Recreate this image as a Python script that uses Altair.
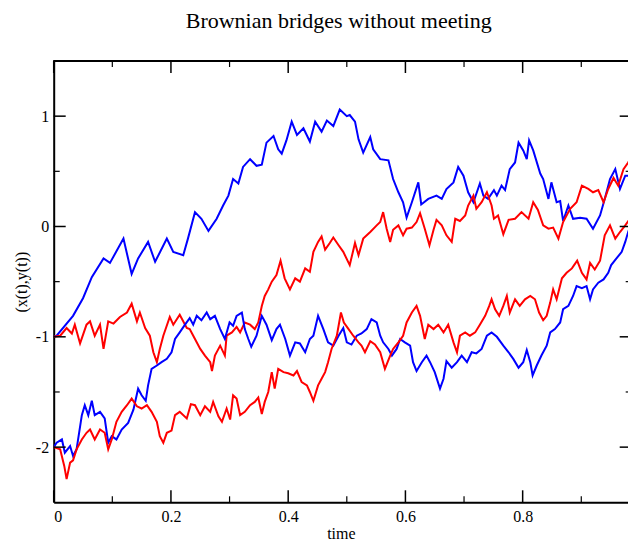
import altair as alt
import pandas as pd

# ---- path data (time, value) ----
T_BLUE_UP = [0.0, 0.005, 0.033, 0.050, 0.065, 0.085, 0.096, 0.119, 0.133, 0.144, 0.161, 0.173, 0.193, 0.204, 0.221, 0.229,
             0.241, 0.252, 0.264, 0.278, 0.289, 0.298, 0.306, 0.315, 0.323, 0.335, 0.346, 0.355, 0.363, 0.375, 0.383, 0.389,
             0.397, 0.406, 0.415, 0.426, 0.437, 0.446, 0.457, 0.466, 0.477, 0.488, 0.500, 0.505, 0.514, 0.520, 0.528, 0.540,
             0.545, 0.557, 0.571, 0.579, 0.588, 0.596, 0.602, 0.611, 0.622, 0.627, 0.639, 0.653, 0.662, 0.670, 0.682, 0.690,
             0.699, 0.707, 0.716, 0.727, 0.733, 0.741, 0.751, 0.756, 0.764, 0.770, 0.778, 0.787, 0.793, 0.801, 0.807, 0.811,
             0.818, 0.830, 0.835, 0.844, 0.849, 0.858, 0.864, 0.869, 0.878, 0.886, 0.898, 0.909, 0.920, 0.932, 0.940, 0.949,
             0.958, 0.966, 0.975, 0.983, 0.993]
Y_BLUE_UP = [-1.00, -0.99, -0.81, -0.65, -0.46, -0.29, -0.33, -0.11, -0.43, -0.29, -0.14, -0.32, -0.11, -0.23, -0.26, -0.11,
             0.13, 0.07, -0.04, 0.07, 0.19, 0.28, 0.43, 0.39, 0.54, 0.61, 0.55, 0.56, 0.76, 0.82, 0.70, 0.66,
             0.78, 0.95, 0.83, 0.89, 0.77, 0.95, 0.86, 0.96, 0.91, 1.06, 1.00, 1.01, 0.95, 0.79, 0.67, 0.81,
             0.70, 0.61, 0.60, 0.43, 0.31, 0.22, 0.08, 0.22, 0.40, 0.20, 0.25, 0.28, 0.25, 0.34, 0.40, 0.54,
             0.46, 0.31, 0.22, 0.39, 0.28, 0.25, 0.33, 0.28, 0.37, 0.33, 0.52, 0.58, 0.76, 0.69, 0.61, 0.78,
             0.69, 0.48, 0.43, 0.25, 0.40, 0.22, 0.23, 0.05, 0.19, 0.07, 0.08, 0.07, -0.02, 0.10, 0.25, 0.43,
             0.52, 0.34, 0.46, 0.46, 0.51]

T_RED_UP = [0.0, 0.011, 0.022, 0.031, 0.036, 0.045, 0.056, 0.062, 0.070, 0.079, 0.085, 0.093, 0.102, 0.113, 0.125, 0.133,
            0.142, 0.147, 0.156, 0.164, 0.170, 0.176, 0.181, 0.187, 0.198, 0.204, 0.215, 0.227, 0.232, 0.241, 0.250, 0.258,
            0.267, 0.270, 0.275, 0.284, 0.292, 0.295, 0.304, 0.312, 0.318, 0.326, 0.335, 0.343, 0.349, 0.355, 0.360, 0.366,
            0.372, 0.380, 0.387, 0.394, 0.403, 0.412, 0.420, 0.429, 0.437, 0.443, 0.451, 0.457, 0.463, 0.471, 0.477, 0.486,
            0.494, 0.505, 0.514, 0.520, 0.528, 0.540, 0.551, 0.557, 0.562, 0.568, 0.574, 0.579, 0.588, 0.596, 0.602, 0.611,
            0.619, 0.625, 0.633, 0.641, 0.648, 0.653, 0.662, 0.670, 0.679, 0.685, 0.693, 0.702, 0.707, 0.716, 0.721, 0.730,
            0.739, 0.747, 0.751, 0.758, 0.767, 0.776, 0.787, 0.798, 0.810, 0.818, 0.826, 0.835, 0.844, 0.852, 0.861, 0.869,
            0.881, 0.892, 0.901, 0.912, 0.920, 0.929, 0.938, 0.946, 0.955, 0.963, 0.972, 0.980, 0.989, 0.993]
Y_RED_UP = [-1.00, -0.99, -0.92, -0.97, -0.89, -1.06, -0.89, -0.86, -0.99, -0.89, -1.11, -0.86, -0.88, -0.82, -0.78, -0.70,
            -0.86, -0.78, -0.92, -0.99, -1.14, -1.23, -1.11, -0.99, -0.82, -0.89, -0.80, -0.92, -0.93, -1.02, -1.11, -1.17,
            -1.23, -1.31, -1.17, -1.08, -1.17, -0.99, -0.96, -0.91, -0.96, -0.87, -0.89, -0.93, -0.87, -0.72, -0.63, -0.57,
            -0.50, -0.44, -0.31, -0.47, -0.57, -0.47, -0.50, -0.38, -0.41, -0.23, -0.14, -0.09, -0.21, -0.15, -0.10, -0.17,
            -0.23, -0.35, -0.15, -0.26, -0.11, -0.05, 0.01, 0.04, 0.13, -0.02, -0.14, -0.03, 0.01, -0.08, -0.02, -0.01,
            0.04, 0.12, -0.02, -0.17, -0.03, 0.06, 0.01, -0.08, -0.14, 0.07, 0.05, 0.10, 0.19, 0.28, 0.16, 0.22,
            0.31, 0.19, 0.07, 0.10, -0.07, 0.06, 0.07, 0.13, 0.07, 0.22, 0.15, 0.01, -0.02, -0.01, -0.11, 0.04,
            0.16, 0.22, 0.37, 0.34, 0.31, 0.33, 0.22, 0.34, 0.44, 0.37, 0.52, 0.58, 0.67, 0.70]

T_BLUE_LOW = [0.0, 0.005, 0.014, 0.019, 0.028, 0.033, 0.039, 0.048, 0.053, 0.059, 0.065, 0.070, 0.079, 0.087, 0.093, 0.099,
              0.107, 0.116, 0.127, 0.136, 0.144, 0.150, 0.157, 0.161, 0.167, 0.176, 0.184, 0.193, 0.201, 0.207, 0.215, 0.224,
              0.232, 0.238, 0.244, 0.252, 0.261, 0.267, 0.275, 0.284, 0.292, 0.300, 0.306, 0.312, 0.321, 0.326, 0.332, 0.337,
              0.346, 0.355, 0.363, 0.372, 0.380, 0.386, 0.395, 0.403, 0.412, 0.420, 0.429, 0.437, 0.443, 0.451, 0.460, 0.468,
              0.477, 0.486, 0.494, 0.500, 0.508, 0.517, 0.525, 0.534, 0.542, 0.551, 0.557, 0.562, 0.571, 0.577, 0.585, 0.591,
              0.599, 0.608, 0.613, 0.619, 0.628, 0.636, 0.642, 0.650, 0.659, 0.665, 0.670, 0.679, 0.688, 0.696, 0.705, 0.713,
              0.721, 0.730, 0.739, 0.747, 0.756, 0.767, 0.776, 0.784, 0.793, 0.801, 0.807, 0.813, 0.817, 0.824, 0.832, 0.841,
              0.847, 0.855, 0.864, 0.869, 0.878, 0.886, 0.892, 0.901, 0.909, 0.915, 0.920, 0.929, 0.938, 0.946, 0.951, 0.960,
              0.969, 0.975, 0.980, 0.986, 0.993]
Y_BLUE_LOW = [-2.00, -1.96, -1.93, -2.05, -1.99, -2.08, -2.02, -1.71, -1.62, -1.71, -1.58, -1.71, -1.68, -1.74, -1.96, -1.90,
              -1.93, -1.84, -1.78, -1.66, -1.47, -1.53, -1.58, -1.44, -1.29, -1.26, -1.23, -1.20, -1.14, -1.02, -0.96, -0.89,
              -0.83, -0.89, -0.81, -0.85, -0.78, -0.84, -0.81, -0.93, -1.02, -0.87, -0.90, -0.81, -0.78, -0.93, -1.02, -1.09,
              -0.99, -0.81, -0.89, -1.03, -0.93, -0.89, -1.02, -1.17, -1.05, -1.06, -1.14, -1.02, -0.99, -0.81, -0.93, -1.05,
              -1.08, -0.99, -0.92, -1.05, -1.07, -0.99, -0.97, -0.93, -0.84, -0.87, -0.99, -1.05, -1.11, -1.17, -1.11, -1.02,
              -1.05, -1.08, -1.23, -1.31, -1.23, -1.17, -1.23, -1.32, -1.47, -1.38, -1.22, -1.28, -1.23, -1.17, -1.23, -1.14,
              -1.15, -1.11, -0.99, -0.96, -1.00, -1.08, -1.14, -1.20, -1.28, -1.23, -1.12, -1.23, -1.35, -1.26, -1.17, -1.08,
              -0.96, -0.93, -0.87, -0.75, -0.72, -0.63, -0.54, -0.56, -0.54, -0.66, -0.57, -0.51, -0.48, -0.42, -0.35, -0.29,
              -0.23, -0.14, -0.05, 0.04, 0.10]

T_RED_LOW = [0.0, 0.011, 0.018, 0.022, 0.028, 0.033, 0.039, 0.048, 0.056, 0.062, 0.070, 0.079, 0.087, 0.093, 0.099, 0.107,
             0.116, 0.125, 0.133, 0.142, 0.150, 0.159, 0.167, 0.176, 0.181, 0.187, 0.193, 0.201, 0.207, 0.215, 0.227, 0.234,
             0.241, 0.250, 0.258, 0.267, 0.272, 0.281, 0.287, 0.295, 0.301, 0.306, 0.312, 0.318, 0.326, 0.335, 0.343, 0.349,
             0.355, 0.360, 0.366, 0.372, 0.377, 0.383, 0.392, 0.400, 0.409, 0.415, 0.423, 0.432, 0.437, 0.443, 0.451, 0.457,
             0.463, 0.468, 0.474, 0.483, 0.490, 0.495, 0.503, 0.511, 0.520, 0.525, 0.531, 0.540, 0.548, 0.557, 0.565, 0.574,
             0.579, 0.588, 0.596, 0.602, 0.611, 0.619, 0.625, 0.633, 0.639, 0.648, 0.656, 0.665, 0.673, 0.682, 0.688, 0.693,
             0.702, 0.710, 0.719, 0.727, 0.736, 0.743, 0.747, 0.753, 0.760, 0.767, 0.773, 0.778, 0.787, 0.795, 0.804, 0.813,
             0.821, 0.828, 0.835, 0.841, 0.847, 0.852, 0.858, 0.867, 0.875, 0.884, 0.893, 0.901, 0.909, 0.915, 0.923, 0.932,
             0.940, 0.949, 0.958, 0.966, 0.975, 0.983, 0.993]
Y_RED_LOW = [-2.00, -2.02, -2.17, -2.29, -2.14, -2.12, -2.02, -1.93, -1.87, -1.84, -1.93, -1.84, -1.87, -2.02, -1.93, -1.77,
             -1.68, -1.62, -1.56, -1.63, -1.65, -1.62, -1.68, -1.77, -1.90, -1.96, -1.87, -1.85, -1.71, -1.68, -1.74, -1.61,
             -1.62, -1.71, -1.63, -1.68, -1.59, -1.72, -1.77, -1.65, -1.75, -1.53, -1.56, -1.71, -1.68, -1.62, -1.59, -1.55,
             -1.70, -1.59, -1.50, -1.32, -1.47, -1.29, -1.32, -1.33, -1.35, -1.31, -1.41, -1.44, -1.50, -1.58, -1.44, -1.38,
             -1.32, -1.23, -1.11, -0.99, -0.78, -0.87, -0.93, -0.99, -1.05, -1.08, -1.14, -1.04, -1.07, -1.14, -1.29, -1.17,
             -1.11, -1.05, -0.99, -0.87, -0.78, -0.72, -0.81, -1.02, -0.89, -0.93, -0.89, -0.96, -0.89, -1.05, -1.14, -0.99,
             -0.96, -0.99, -0.96, -0.89, -0.81, -0.72, -0.66, -0.75, -0.81, -0.72, -0.63, -0.78, -0.66, -0.72, -0.66, -0.63,
             -0.66, -0.78, -0.85, -0.81, -0.69, -0.57, -0.66, -0.47, -0.42, -0.38, -0.31, -0.42, -0.48, -0.33, -0.39, -0.31,
             -0.08, 0.01, -0.11, -0.05, 0.01, 0.07, 0.16]

PATHS = ["x upper", "y upper", "x lower", "y lower"]
PATH_COLORS = ["#0000ff", "#ff0000", "#0000ff", "#ff0000"]

X_MAJOR = [0, 0.2, 0.4, 0.6, 0.8]
X_MINOR = [0.1, 0.3, 0.5, 0.7, 0.9]
Y_MAJOR = [-2, -1, 0, 1]
Y_MINOR = [-1.5, -0.5, 0.5]

TITLE = "Brownian bridges without meeting"
X_TITLE = "time"
Y_TITLE = "(x(t),y(t))"

# ---- build table ----
frames = []
for name, ts, vs in [(PATHS[0], T_BLUE_UP, Y_BLUE_UP), (PATHS[1], T_RED_UP, Y_RED_UP),
                     (PATHS[2], T_BLUE_LOW, Y_BLUE_LOW), (PATHS[3], T_RED_LOW, Y_RED_LOW)]:
    frames.append(pd.DataFrame({"t": ts, "v": vs, "path": name}))
df = pd.concat(frames, ignore_index=True)

PX_PER_UNIT = 586.2
W = 574.3
H = 441.3
FONT = "Liberation Serif"

xs = alt.Scale(domain=[0, W / PX_PER_UNIT], nice=False, zero=False)
ys = alt.Scale(domain=[-2.5, 1.5], nice=False, zero=False)

x_axis = alt.Axis(values=X_MAJOR, labelExpr="'' + datum.value", title=X_TITLE, ticks=False, grid=False,
                  domain=True, domainColor="black", domainWidth=2, domainOpacity=1,
                  labelFont=FONT, labelFontSize=16, labelColor="black",
                  labelPadding=6, titleFont=FONT, titleFontSize=16, titleFontWeight="normal", titleColor="black",
                  titleY=31, titleBaseline="middle")
y_axis = alt.Axis(values=Y_MAJOR, labelExpr="'' + datum.value", title=Y_TITLE, ticks=False, grid=False,
                  domain=True, domainColor="black", domainWidth=2, domainOpacity=1,
                  labelFont=FONT, labelFontSize=16, labelColor="black",
                  labelPadding=5, titleFont=FONT, titleFontSize=16, titleFontWeight="normal", titleColor="black",
                  titleX=-32, titleY=H / 2, titleBaseline="middle", titleAlign="center", titleAngle=270)

lines = alt.Chart(df).mark_line(strokeWidth=2, clip=True).encode(
    x=alt.X("t:Q", scale=xs, axis=x_axis),
    y=alt.Y("v:Q", scale=ys, axis=y_axis),
    color=alt.Color("path:N", scale=alt.Scale(domain=PATHS, range=PATH_COLORS), legend=None),
    detail="path:N",
)

xmaj = pd.DataFrame({"t": X_MAJOR})
xmin = pd.DataFrame({"t": X_MINOR})
ymaj = pd.DataFrame({"v": Y_MAJOR})
ymin = pd.DataFrame({"v": Y_MINOR})


def xticks(d, y0, y1, w):
    return alt.Chart(d).mark_rule(color="black", strokeWidth=w).encode(
        x=alt.X("t:Q", scale=xs, axis=x_axis), y=alt.value(y0), y2=alt.value(y1))


def yticks(d, x0, x1, w):
    return alt.Chart(d).mark_rule(color="black", strokeWidth=w).encode(
        y=alt.Y("v:Q", scale=ys, axis=y_axis), x=alt.value(x0), x2=alt.value(x1))


frame_top = alt.Chart(xmaj).mark_rule(color="black", strokeWidth=2).encode(
    x=alt.value(0), x2=alt.value(W), y=alt.value(0))

title_df = pd.DataFrame({"label": [TITLE]})
title_mark = alt.Chart(title_df).mark_text(font=FONT, fontSize=22, color="black", align="center",
                                           baseline="alphabetic").encode(
    text="label:N", x=alt.value(285), y=alt.value(-33))

layers = [
    lines,
    frame_top,
    xticks(xmaj, H, H - 12, 1.5), xticks(xmaj, 0, 12, 1.5),
    xticks(xmin, H, H - 6, 1.2), xticks(xmin, 0, 6, 1.2),
    yticks(ymaj, 0, 12, 1.5), yticks(ymaj, W - 8.3, W, 1.5),
    yticks(ymin, 0, 6, 1.2), yticks(ymin, W - 2.3, W, 1.2),
    title_mark,
]

chart = alt.layer(*layers).properties(
    width=W, height=H,
    autosize=alt.AutoSizeParams(type="none"),
    padding={"left": 45.7, "top": 53, "right": 0, "bottom": 40},
).configure_view(stroke=None).configure(background="white")

chart.save("out.html", embed_options={"renderer": "svg", "actions": False})
